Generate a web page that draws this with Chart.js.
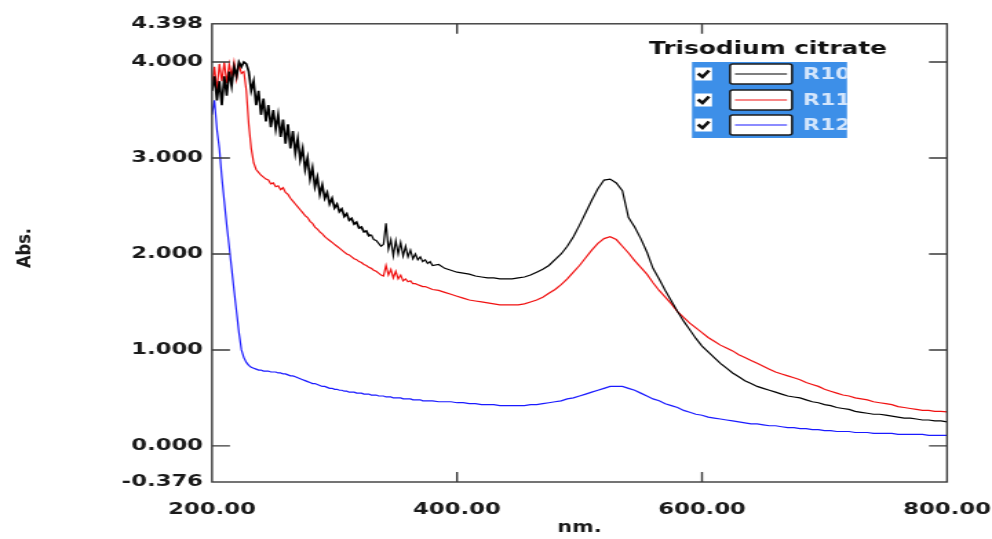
<!DOCTYPE html>
<html>
<head>
<meta charset="utf-8">
<style>
  html, body { margin: 0; padding: 0; background: #fff; }
  #spectrum { display: block; }
</style>
<script src="https://cdn.jsdelivr.net/npm/chart.js@4.4.1/dist/chart.umd.min.js"></script>
</head>
<body>
<canvas id="spectrum" width="720" height="539" style="width:992px;height:539px"></canvas>
<script>
// The source picture is horizontally stretched, so the canvas is drawn narrow
// and widened by CSS. px() turns a reference-picture x distance into canvas units.
const S = 992 / 720;
const px = (v) => v / S;

const X_TICKS = [200, 400, 600, 800];
const Y_TICKS = [-0.376, 0, 1, 2, 3, 4, 4.398];
const X_INNER = [400, 600];
const Y_INNER = [0, 1, 2, 3, 4];

const WAVELENGTH = [
  200, 202, 204, 206, 208, 210, 212, 214, 216, 218,
  220, 222, 224, 226, 228, 230, 232, 234, 236, 238,
  240, 242, 244, 246, 248, 250, 252, 254, 256, 258,
  260, 262, 264, 266, 268, 270, 272, 274, 276, 278,
  280, 282, 284, 286, 288, 290, 292, 294, 296, 298,
  300, 302, 304, 306, 308, 310, 312, 314, 316, 318,
  320, 322, 324, 326, 328, 330, 332, 334, 336, 338,
  340, 342, 344, 346, 348, 350, 352, 354, 356, 358,
  360, 362, 364, 366, 368, 370, 372, 374, 376, 378,
  380, 385, 390, 395, 400, 405, 410, 415, 420, 425,
  430, 435, 440, 445, 450, 455, 460, 465, 470, 475,
  480, 485, 490, 495, 500, 505, 510, 515, 520, 525,
  530, 535, 540, 545, 550, 555, 560, 565, 570, 575,
  580, 585, 590, 595, 600, 605, 610, 615, 620, 625,
  630, 635, 640, 645, 650, 655, 660, 665, 670, 675,
  680, 685, 690, 695, 700, 705, 710, 715, 720, 725,
  730, 735, 740, 745, 750, 755, 760, 765, 770, 775,
  780, 785, 790, 795, 800
];

const ABS_R10 = [
  3.70, 3.85, 3.60, 3.80, 3.55, 3.85, 3.65, 3.90, 3.75, 3.95,
  3.85, 4.00, 3.95, 4.00, 3.98, 3.90, 3.70, 3.80, 3.55, 3.70,
  3.45, 3.62, 3.38, 3.55, 3.32, 3.50, 3.30, 3.45, 3.22, 3.40,
  3.15, 3.35, 3.10, 3.28, 3.05, 3.20, 2.98, 3.10, 2.88, 3.00,
  2.78, 2.90, 2.70, 2.80, 2.62, 2.72, 2.58, 2.64, 2.52, 2.58,
  2.48, 2.52, 2.44, 2.47, 2.39, 2.42, 2.35, 2.37, 2.31, 2.33,
  2.27, 2.28, 2.23, 2.24, 2.19, 2.20, 2.15, 2.14, 2.11, 2.08,
  2.10, 2.32, 2.05, 2.15, 1.98, 2.14, 2.00, 2.12, 1.98, 2.08,
  1.97, 2.04, 1.95, 2.00, 1.94, 1.97, 1.92, 1.94, 1.90, 1.92,
  1.88, 1.89, 1.85, 1.83, 1.81, 1.80, 1.79, 1.77, 1.76, 1.75,
  1.75, 1.74, 1.74, 1.74, 1.75, 1.76, 1.78, 1.81, 1.84, 1.88,
  1.94, 2.00, 2.08, 2.18, 2.30, 2.43, 2.56, 2.68, 2.77, 2.78,
  2.74, 2.66, 2.38, 2.28, 2.16, 2.02, 1.85, 1.74, 1.62, 1.51,
  1.40, 1.30, 1.21, 1.12, 1.04, 0.98, 0.92, 0.86, 0.81, 0.76,
  0.72, 0.68, 0.65, 0.62, 0.60, 0.58, 0.56, 0.54, 0.52, 0.51,
  0.50, 0.48, 0.46, 0.45, 0.43, 0.42, 0.40, 0.39, 0.38, 0.36,
  0.35, 0.34, 0.33, 0.33, 0.32, 0.31, 0.30, 0.29, 0.29, 0.28,
  0.27, 0.27, 0.26, 0.26, 0.25
];

const ABS_R11 = [
  3.75, 3.95, 3.70, 3.98, 3.80, 4.00, 3.78, 3.98, 3.85, 4.00,
  3.82, 3.98, 3.88, 3.90, 3.70, 3.35, 3.10, 2.95, 2.88, 2.85,
  2.82, 2.80, 2.78, 2.77, 2.73, 2.74, 2.70, 2.71, 2.67, 2.69,
  2.64, 2.62, 2.58, 2.55, 2.52, 2.49, 2.46, 2.43, 2.40, 2.38,
  2.34, 2.32, 2.28, 2.26, 2.23, 2.21, 2.18, 2.16, 2.14, 2.12,
  2.10, 2.08, 2.06, 2.04, 2.02, 2.00, 1.99, 1.97, 1.95, 1.94,
  1.92, 1.91, 1.89, 1.88, 1.86, 1.85, 1.83, 1.82, 1.80, 1.78,
  1.77, 1.88, 1.78, 1.84, 1.75, 1.82, 1.74, 1.78, 1.72, 1.74,
  1.71, 1.72, 1.69, 1.69, 1.68, 1.67, 1.66, 1.66, 1.65, 1.64,
  1.63, 1.62, 1.60, 1.58, 1.56, 1.54, 1.52, 1.51, 1.50, 1.49,
  1.48, 1.47, 1.47, 1.47, 1.47, 1.48, 1.50, 1.52, 1.55, 1.59,
  1.63, 1.68, 1.74, 1.81, 1.88, 1.96, 2.04, 2.11, 2.16, 2.18,
  2.15, 2.08, 2.01, 1.93, 1.86, 1.79, 1.70, 1.62, 1.55, 1.48,
  1.40, 1.34, 1.28, 1.23, 1.18, 1.13, 1.09, 1.05, 1.02, 0.99,
  0.95, 0.92, 0.89, 0.86, 0.83, 0.80, 0.77, 0.75, 0.73, 0.71,
  0.69, 0.66, 0.64, 0.62, 0.59, 0.57, 0.55, 0.53, 0.52, 0.50,
  0.49, 0.48, 0.46, 0.45, 0.44, 0.43, 0.41, 0.40, 0.39, 0.38,
  0.37, 0.37, 0.36, 0.36, 0.355
];

const ABS_R12 = [
  3.45, 3.60, 3.30, 3.10, 2.80, 2.55, 2.30, 2.08, 1.85, 1.62,
  1.40, 1.18, 1.00, 0.92, 0.87, 0.84, 0.82, 0.81, 0.80, 0.79,
  0.79, 0.78, 0.78, 0.78, 0.77, 0.77, 0.77, 0.76, 0.76, 0.75,
  0.75, 0.74, 0.73, 0.73, 0.72, 0.71, 0.70, 0.69, 0.68, 0.67,
  0.66, 0.65, 0.65, 0.64, 0.63, 0.62, 0.62, 0.61, 0.60, 0.60,
  0.59, 0.59, 0.58, 0.58, 0.57, 0.57, 0.56, 0.56, 0.56, 0.55,
  0.55, 0.55, 0.54, 0.54, 0.54, 0.53, 0.53, 0.53, 0.52, 0.52,
  0.52, 0.51, 0.51, 0.51, 0.50, 0.50, 0.50, 0.50, 0.49, 0.49,
  0.49, 0.49, 0.48, 0.48, 0.48, 0.48, 0.47, 0.47, 0.47, 0.47,
  0.47, 0.46, 0.46, 0.46, 0.45, 0.45, 0.44, 0.44, 0.43, 0.43,
  0.43, 0.42, 0.42, 0.42, 0.42, 0.42, 0.43, 0.43, 0.44, 0.45,
  0.46, 0.47, 0.49, 0.50, 0.52, 0.54, 0.56, 0.58, 0.60, 0.62,
  0.62, 0.62, 0.60, 0.58, 0.55, 0.52, 0.49, 0.47, 0.44, 0.42,
  0.40, 0.37, 0.35, 0.33, 0.32, 0.30, 0.29, 0.28, 0.27, 0.26,
  0.25, 0.24, 0.23, 0.23, 0.22, 0.21, 0.21, 0.20, 0.19, 0.19,
  0.18, 0.18, 0.17, 0.17, 0.16, 0.16, 0.15, 0.15, 0.15, 0.14,
  0.14, 0.14, 0.13, 0.13, 0.13, 0.13, 0.12, 0.12, 0.12, 0.12,
  0.12, 0.11, 0.11, 0.11, 0.11
];

const LEGEND_TITLE = 'Trisodium citrate';
const SERIES_NAMES = ['R10', 'R11', 'R12'];
const SERIES_COLORS = ['#000000', '#f01010', '#1a1aff'];

const FONT_TICK = { family: "'DejaVu Sans', Verdana, sans-serif", size: 16.5, weight: 'bold' };

const toPoints = (values) => WAVELENGTH.map((x, i) => ({ x, y: values[i] }));

// Frame round the plot with short inward ticks on all four sides.
const frameAndTicks = {
  id: 'frameAndTicks',
  afterDatasetsDraw(chart) {
    const { ctx, chartArea: a, scales } = chart;
    ctx.save();
    ctx.strokeStyle = '#3a3a3a';
    ctx.lineWidth = 1.4;
    ctx.beginPath();
    Y_INNER.forEach((v) => {
      const y = scales.y.getPixelForValue(v);
      ctx.moveTo(a.left, y);
      ctx.lineTo(a.left + px(18), y);
      ctx.moveTo(a.right, y);
      ctx.lineTo(a.right - px(18), y);
    });
    X_INNER.forEach((v) => {
      const x = scales.x.getPixelForValue(v);
      ctx.moveTo(x, a.bottom);
      ctx.lineTo(x, a.bottom - 10);
      ctx.moveTo(x, a.top);
      ctx.lineTo(x, a.top + 10);
    });
    ctx.stroke();
    ctx.strokeRect(a.left, a.top, a.right - a.left, a.bottom - a.top);
    ctx.restore();
  }
};

// Rotated "Abs." label, squeezed to the condensed look of the original.
const yTitle = {
  id: 'yTitle',
  afterDraw(chart) {
    const { ctx } = chart;
    ctx.save();
    ctx.translate(px(25), 248);
    ctx.rotate(-Math.PI / 2);
    ctx.font = "bold 20px 'Liberation Sans Narrow', 'DejaVu Sans Condensed', sans-serif";
    const w = ctx.measureText('Abs.').width;
    ctx.scale(40 / w, 14 / (20 * 0.73 * S));
    ctx.fillStyle = '#1a1a1a';
    ctx.textAlign = 'center';
    ctx.textBaseline = 'middle';
    ctx.fillText('Abs.', 0, 0);
    ctx.restore();
  }
};

// Instrument-style legend: title above a blue panel with check boxes and line samples.
const panelLegend = {
  id: 'panelLegend',
  afterDraw(chart) {
    const { ctx } = chart;
    const left = px(692), right = px(847), top = 62, bottom = 138;
    const rows = [74, 100, 125];

    ctx.save();
    ctx.font = "bold 18px 'DejaVu Sans', Verdana, sans-serif";
    ctx.fillStyle = '#111';
    ctx.textAlign = 'center';
    ctx.textBaseline = 'middle';
    ctx.fillText(LEGEND_TITLE, px(768), 49);

    ctx.fillStyle = '#3d8fe8';
    ctx.fillRect(left, top, right - left, bottom - top);

    ctx.beginPath();
    ctx.rect(left, top, right - left, bottom - top);
    ctx.clip();

    chart.data.datasets.forEach((ds, i) => {
      const y = rows[i];
      // check box
      const cx = px(695), cw = px(17);
      ctx.fillStyle = '#ffffff';
      ctx.fillRect(cx, y - 6.5, cw, 13);
      ctx.strokeStyle = '#111';
      ctx.lineWidth = 2.6;
      ctx.beginPath();
      ctx.moveTo(cx + px(3), y - 0.5);
      ctx.lineTo(cx + px(7.5), y + 3);
      ctx.lineTo(cx + px(14), y - 3.5);
      ctx.stroke();

      // line sample box
      const sx = px(730), sw = px(62);
      ctx.fillStyle = '#ffffff';
      ctx.strokeStyle = '#1c1c1c';
      ctx.lineWidth = 1.6;
      ctx.beginPath();
      if (ctx.roundRect) ctx.roundRect(sx, y - 10, sw, 20, 2);
      else ctx.rect(sx, y - 10, sw, 20);
      ctx.fill();
      ctx.stroke();
      ctx.strokeStyle = ds.borderColor;
      ctx.lineWidth = 1.2;
      ctx.beginPath();
      ctx.moveTo(sx + px(5), y);
      ctx.lineTo(sx + sw - px(5), y);
      ctx.stroke();

      ctx.fillStyle = '#d4e6fc';
      ctx.font = "bold 16px 'DejaVu Sans', Verdana, sans-serif";
      ctx.textAlign = 'left';
      ctx.fillText(ds.label, px(803), y + 1);
    });
    ctx.restore();
  }
};

new Chart(document.getElementById('spectrum'), {
  type: 'line',
  data: {
    datasets: [ABS_R10, ABS_R11, ABS_R12].map((values, i) => ({
      label: SERIES_NAMES[i],
      data: toPoints(values),
      borderColor: SERIES_COLORS[i],
      borderWidth: 1.2,
      // the noisy stretch of R10 reads as a heavier band in the original
      segment: i === 0 ? { borderWidth: (c) => (c.p0.parsed.x < 330 ? 1.7 : 1.2) } : undefined,
      pointRadius: 0,
      tension: 0,
      fill: false
    }))
  },
  options: {
    responsive: false,
    devicePixelRatio: 1,
    animation: false,
    events: [],
    layout: { padding: { top: 23.8, right: px(45), bottom: 0, left: 0 } },
    plugins: { legend: { display: false }, tooltip: { enabled: false } },
    scales: {
      x: {
        type: 'linear',
        min: 200,
        max: 800,
        afterBuildTicks: (scale) => { scale.ticks = X_TICKS.map((value) => ({ value })); },
        afterFit: (scale) => { scale.height = 57; },
        ticks: {
          color: '#1a1a1a',
          font: FONT_TICK,
          padding: 0,
          maxRotation: 0,
          autoSkip: false,
          callback: (v) => Number(v).toFixed(2)
        },
        // tick marks are not drawn; tickLength only spaces the labels below the frame
        grid: { display: false, drawTicks: true, tickLength: 18 },
        border: { display: false },
        title: {
          display: true,
          text: 'nm.',
          color: '#1a1a1a',
          font: { family: "'DejaVu Sans', Verdana, sans-serif", size: 15, weight: 'bold' },
          padding: { top: 0, bottom: 2 }
        }
      },
      y: {
        type: 'linear',
        min: -0.376,
        max: 4.398,
        afterBuildTicks: (scale) => { scale.ticks = Y_TICKS.map((value) => ({ value })); },
        afterFit: (scale) => { scale.width = px(212); },
        ticks: {
          color: '#1a1a1a',
          font: FONT_TICK,
          padding: px(9),
          autoSkip: false,
          callback: (v) => Number(v).toFixed(3)
        },
        grid: { display: false, drawTicks: false },
        border: { display: false }
      }
    }
  },
  plugins: [frameAndTicks, yTitle, panelLegend]
});
</script>
</body>
</html>
